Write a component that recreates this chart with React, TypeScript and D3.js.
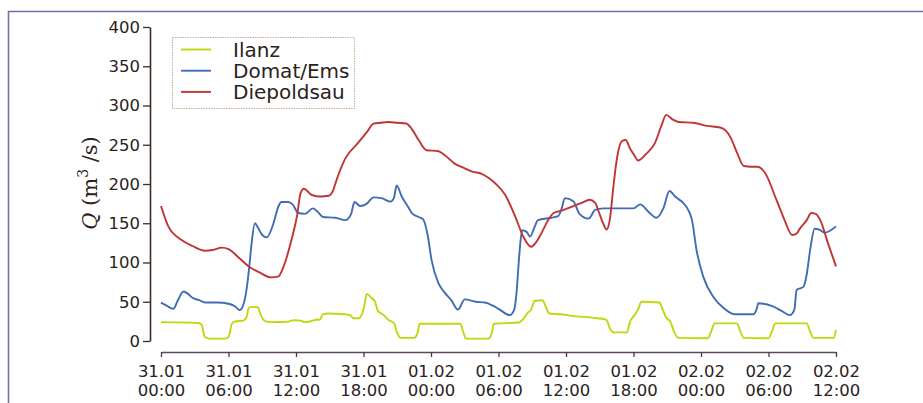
import React, { useRef, useEffect } from "react";
import * as d3 from "d3";

// hours since 31.01 00:00, discharge in m3/s
const ilanz: [number, number][] = [
  [0, 24], [3.3, 23], [3.6, 21], [3.9, 5], [4.3, 3], [5.7, 3], [6.0, 5], [6.3, 22], [6.6, 25],
  [7.3, 26], [7.6, 30], [7.8, 42], [8.1, 43.5], [8.6, 43], [8.9, 32], [9.3, 25], [9.8, 24],
  [11.3, 24.5], [11.8, 26.5], [12.4, 26], [12.8, 24], [13.4, 25.5], [13.8, 27], [14.1, 27],
  [14.4, 34], [14.9, 35], [16.3, 34], [16.8, 33], [17.1, 29], [17.6, 29], [18.0, 40], [18.3, 60],
  [18.7, 55], [19.0, 51], [19.3, 38], [19.8, 33], [20.2, 27], [20.7, 23], [21.0, 10], [21.3, 4],
  [22.5, 4], [22.8, 10], [23.0, 22], [26.6, 22], [26.9, 10], [27.1, 3], [29.1, 3], [29.4, 10],
  [29.6, 22], [31.8, 23.5], [32.3, 30], [32.6, 36], [32.9, 40], [33.2, 51], [33.9, 52],
  [34.2, 44], [34.5, 35], [35.5, 34], [36.5, 32], [38.8, 29], [39.6, 27], [39.9, 16], [40.3, 11],
  [41.4, 11], [41.7, 25], [42.1, 33], [42.4, 40], [42.7, 50], [44.3, 49], [44.6, 40], [44.9, 30],
  [45.3, 24], [45.6, 12], [46.0, 4], [48.6, 3.5], [48.9, 12], [49.2, 22.5], [51.2, 22.5],
  [51.5, 12], [51.8, 4], [54.0, 3.5], [54.3, 12], [54.6, 22.5], [57.4, 22.5], [57.7, 12],
  [58.0, 4], [59.8, 4], [60, 14],
];

const domatEms: [number, number][] = [
  [0, 49], [0.5, 45], [1.1, 41], [1.5, 52], [2.0, 63], [2.4, 60], [2.8, 55], [3.4, 52], [3.9, 49],
  [5.0, 49], [6.0, 47.5], [6.6, 44], [7.0, 39.5], [7.4, 50], [7.6, 65], [7.85, 95], [8.05, 124],
  [8.35, 150], [8.6, 145], [9.0, 135], [9.4, 132], [10.0, 150], [10.4, 170], [10.7, 177],
  [11.3, 177], [11.7, 174], [12.2, 163], [12.8, 162], [13.5, 169], [13.9, 165], [14.4, 158],
  [15.5, 157], [16.4, 154], [16.9, 162], [17.2, 177], [17.7, 172], [18.3, 175], [18.9, 183],
  [19.6, 182], [20.4, 177.5], [20.7, 182], [20.95, 198], [21.4, 184], [22.0, 170], [22.3, 163],
  [22.9, 158], [23.3, 155], [23.7, 135], [24.05, 103], [24.65, 74], [25.2, 62], [25.8, 52],
  [26.4, 40], [27.0, 53], [28.0, 50], [28.8, 49], [29.5, 45], [30.0, 41], [31.0, 33], [31.4, 40],
  [31.6, 61], [31.85, 110], [32.1, 141], [32.5, 139], [32.8, 133], [33.2, 145], [33.5, 154],
  [34.7, 157], [35.3, 159], [35.6, 168], [35.9, 182], [36.65, 178], [37.2, 162], [38.0, 156],
  [38.6, 167], [39.3, 169], [40.1, 169], [41.2, 169], [42.0, 169], [42.6, 174], [43.3, 165],
  [44.05, 157], [44.65, 169], [45.2, 191], [45.7, 184], [46.6, 173], [47.0, 163], [47.2, 154],
  [47.6, 116], [48.2, 82], [49.1, 56], [50.0, 42], [51.0, 34], [52.65, 34], [52.95, 41],
  [53.1, 48], [54.4, 44], [55.2, 38], [55.9, 33], [56.3, 40], [56.5, 65], [57.1, 69], [57.4, 85],
  [57.7, 116], [58.1, 143], [58.5, 142], [59.0, 138], [60, 146],
];

const diepoldsau: [number, number][] = [
  [0, 172], [0.65, 146], [1.8, 129], [2.8, 121], [3.9, 115], [4.6, 116], [5.4, 119], [6.0, 117],
  [7.0, 105], [7.8, 95], [8.8, 87], [9.8, 81], [10.4, 82], [10.9, 95], [11.6, 129], [12.1, 160],
  [12.4, 188], [12.7, 194], [13.4, 186], [14.2, 184], [14.9, 185], [15.3, 192], [15.6, 205],
  [16.4, 233], [17.5, 252], [18.3, 266], [18.9, 277], [19.5, 278], [20.2, 279], [21.0, 278],
  [21.8, 277], [22.3, 270], [22.9, 256], [23.6, 243], [24.6, 242], [25.2, 237], [26.1, 226],
  [27.0, 220], [27.6, 216], [28.5, 213], [29.1, 208], [29.7, 201], [30.6, 186], [31.5, 158],
  [32.2, 133], [32.9, 120], [33.4, 127], [33.8, 137], [34.5, 156], [34.9, 163], [35.6, 166],
  [36.5, 171], [37.4, 176], [38.1, 180], [38.6, 176], [38.9, 165], [39.3, 150], [39.6, 142],
  [39.9, 155], [40.2, 195], [40.5, 230], [41.0, 255], [41.3, 256], [41.7, 245], [42.1, 236],
  [42.4, 230], [43.1, 238], [43.9, 252], [44.5, 275], [44.9, 288], [45.5, 282], [46.0, 279],
  [47.3, 278], [48.5, 274], [49.7, 272], [50.2, 268], [50.6, 260], [51.2, 240], [51.8, 223],
  [52.5, 222], [53.0, 222], [53.7, 214], [54.7, 180], [55.4, 155], [56.1, 135], [56.5, 137],
  [56.8, 143.5], [57.4, 154], [57.8, 163], [58.2, 162], [58.6, 154], [59.3, 124], [60, 95],
];

const seriesNames = ["Ilanz", "Domat/Ems", "Diepoldsau"];
const seriesColors = ["#c2d60e", "#416bb3", "#c03434"];
const yTicks = [0, 50, 100, 150, 200, 250, 300, 350, 400];

const start = new Date(2014, 0, 31, 0, 0);
const toDate = (h: number) => new Date(start.getTime() + h * 3600 * 1000);

function App() {
  const ref = useRef<HTMLDivElement>(null);

  useEffect(() => {
    const W = 923, H = 403;
    const root = d3.select(ref.current);
    root.selectAll("*").remove();

    const svg = root
      .append("svg")
      .attr("width", W)
      .attr("height", H)
      .style("position", "absolute")
      .style("left", "0px")
      .style("top", "0px")
      .style("font-family", "'DejaVu Sans', sans-serif");

    svg.append("rect").attr("width", W).attr("height", H).attr("fill", "#fff");

    // outer frame (left + top edges only)
    svg
      .append("path")
      .attr("d", `M8.5,${H}V11.5H${W}`)
      .attr("fill", "none")
      .attr("stroke", "#6f70aa")
      .attr("stroke-width", 1.6);

    const x = d3.scaleTime().domain([toDate(0), toDate(60)]).range([161, 836]);
    const y = d3.scaleLinear().domain([0, 400]).range([341, 27]);

    const fmtDay = d3.timeFormat("%d.%m");
    const fmtHour = d3.timeFormat("%H:%M");

    // y axis
    const gy = svg
      .append("g")
      .attr("transform", "translate(150,0)")
      .call(d3.axisLeft(y).tickValues(yTicks).tickSize(7).tickSizeOuter(0).tickPadding(3));
    gy.select(".domain").attr("stroke", "#3d2b22").attr("stroke-width", 1.6);
    gy.selectAll(".tick line").attr("stroke", "#3d2b22").attr("stroke-width", 1.3);
    gy.selectAll(".tick text")
      .attr("fill", "#2b221c")
      .style("font-size", "16.5px")
      .style("font-family", "'DejaVu Sans', sans-serif");

    // x axis
    const gx = svg
      .append("g")
      .attr("transform", "translate(0,352)")
      .call(
        d3
          .axisBottom(x)
          .ticks(d3.timeHour.every(6))
          .tickSize(5)
          .tickSizeOuter(0)
          .tickFormat(() => "")
      );
    gx.select(".domain").attr("stroke", "#5e4762").attr("stroke-width", 1.6);
    gx.selectAll(".tick line").attr("stroke", "#4a3a3a").attr("stroke-width", 1.3);
    gx.selectAll<SVGTextElement, Date>(".tick text").each(function (d) {
      const t = d3.select(this)
        .attr("y", 0)
        .attr("dy", null)
        .attr("fill", "#2b221c")
        .style("font-size", "16.5px")
        .style("font-family", "'DejaVu Sans', sans-serif");
      t.append("tspan").attr("x", 0).attr("y", 24.7).text(fmtDay(d));
      t.append("tspan").attr("x", 0).attr("y", 44).text(fmtHour(d));
    });

    // y label
    const yl = svg
      .append("text")
      .attr("transform", "translate(97,183) rotate(-90)")
      .attr("text-anchor", "middle")
      .attr("fill", "#2b221c")
      .style("font-family", "'DejaVu Serif', serif")
      .style("font-size", "21px");
    yl.append("tspan").style("font-style", "italic").text("Q");
    yl.append("tspan").text(" (m");
    yl.append("tspan").attr("dy", -9).style("font-size", "14px").text("3");
    yl.append("tspan").attr("dy", 9).text(" /s)");

    // lines
    const line = d3
      .line<[number, number]>()
      .x((d) => x(toDate(d[0])))
      .y((d) => y(d[1]))
      .curve(d3.curveMonotoneX);

    [ilanz, domatEms, diepoldsau].forEach((s, i) => {
      svg
        .append("path")
        .datum(s)
        .attr("fill", "none")
        .attr("stroke", seriesColors[i])
        .attr("stroke-width", 1.9)
        .attr("stroke-linejoin", "round")
        .attr("d", line);
    });

    // legend
    const lg = svg.append("g");
    lg.append("rect")
      .attr("x", 172.5)
      .attr("y", 37.5)
      .attr("width", 182)
      .attr("height", 71)
      .attr("fill", "#fff")
      .attr("stroke", "#c9ab8c")
      .attr("stroke-width", 1)
      .attr("stroke-dasharray", "1.5,1");
    seriesNames.forEach((n, i) => {
      const cy = 49.5 + i * 21.2;
      lg.append("line")
        .attr("x1", 181)
        .attr("x2", 211)
        .attr("y1", cy)
        .attr("y2", cy)
        .attr("stroke", seriesColors[i])
        .attr("stroke-width", 1.9);
      lg.append("text")
        .attr("x", 233)
        .attr("y", cy + 7.3)
        .attr("fill", "#2b221c")
        .style("font-size", "20px")
        .text(n);
    });
  }, []);

  return <div ref={ref} style={{ width: "100%", height: "100%" }}></div>;
}

export default App;
